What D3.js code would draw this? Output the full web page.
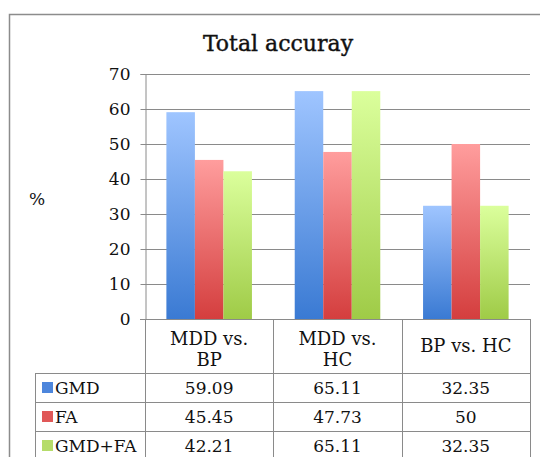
<!DOCTYPE html>
<html lang="en">
<head>
    <meta charset="UTF-8">
    <title></title>
    <style type="text/css">
        html, body { padding:0; margin:0; background:#fff; }
        text { font-family: "DejaVu Serif", serif; fill:#111; }
    </style>
</head>
<body>
<script src="https://d3js.org/d3.v7.min.js"></script>
<script>
    // data
    var categories = ['MDD vs. BP', 'MDD vs. HC', 'BP vs. HC'];
    var categoryLines = [['MDD vs.', 'BP'], ['MDD vs.', 'HC'], ['BP vs. HC']];
    var seriesNames = ['GMD', 'FA', 'GMD+FA'];
    var gmdValues = [59.09, 65.11, 32.35];
    var faValues = [45.45, 47.73, 50];
    var gmdFaValues = [42.21, 65.11, 32.35];
    var valueLabels = [['59.09', '65.11', '32.35'], ['45.45', '47.73', '50'], ['42.21', '65.11', '32.35']];
    var yTicks = [0, 10, 20, 30, 40, 50, 60, 70];

    var series = [gmdValues, faValues, gmdFaValues];
    var colors = [
        {top: '#9fc5ff', bottom: '#3a7ad3', key: '#4d86dc'},
        {top: '#ff9d9d', bottom: '#d43e3e', key: '#e05858'},
        {top: '#dbff9c', bottom: '#9fcb47', key: '#b5dc6a'}
    ];

    var width = 540,
        height = 457;

    var plotLeft = 145, plotRight = 530, plotTop = 74, base = 319;
    var tableLeft = 35, headerBottom = 373, rowH = 29;

    var svg = d3.select('body').append('svg')
                .attr('width', width)
                .attr('height', height);

    var defs = svg.append('defs');
    colors.forEach(function(c, i) {
        var g = defs.append('linearGradient')
                    .attr('id', 'grad' + i)
                    .attr('x1', 0).attr('y1', 0).attr('x2', 0).attr('y2', 1);
        g.append('stop').attr('offset', '0%').attr('stop-color', c.top);
        g.append('stop').attr('offset', '100%').attr('stop-color', c.bottom);
    });

    // outer frame
    svg.append('rect')
       .attr('x', 9.5).attr('y', 14.5)
       .attr('width', 560).attr('height', 500)
       .attr('fill', 'none')
       .attr('stroke', '#8c8c8c')
       .attr('stroke-width', 1.5);

    var x = d3.scaleBand().domain(categories).range([plotLeft, plotRight]);
    var xs = d3.scaleBand().domain(seriesNames).range([0, x.bandwidth()])
               .paddingInner(0).paddingOuter(0.75);
    var y = d3.scaleLinear().domain([0, 70]).range([base, plotTop]);

    // gridlines
    svg.append('g').selectAll('line')
       .data(yTicks.slice(1))
       .enter().append('line')
       .attr('x1', plotLeft).attr('x2', plotRight)
       .attr('y1', function(d) { return Math.round(y(d)) + 0.5; })
       .attr('y2', function(d) { return Math.round(y(d)) + 0.5; })
       .attr('stroke', '#8a8a8a')
       .attr('stroke-width', 1);

    // bars
    series.forEach(function(vals, i) {
        svg.append('g').selectAll('rect')
           .data(vals)
           .enter().append('rect')
           .attr('x', function(d, j) { return x(categories[j]) + xs(seriesNames[i]); })
           .attr('y', function(d) { return y(d); })
           .attr('width', xs.bandwidth())
           .attr('height', function(d) { return base - y(d); })
           .attr('fill', 'url(#grad' + i + ')');
    });

    // y axis
    var axisY = d3.axisLeft(y).tickValues(yTicks).tickSize(5).tickPadding(10);
    var gy = svg.append('g')
       .attr('transform', 'translate(' + (plotLeft + 0.5) + ',0)')
       .call(axisY);
    gy.select('.domain').attr('stroke', '#8a8a8a');
    gy.selectAll('.tick line').attr('stroke', '#8a8a8a');
    gy.selectAll('.tick text')
      .attr('font-family', '"DejaVu Serif", serif')
      .attr('font-size', 17)
      .attr('fill', '#111');

    // baseline / header top
    svg.append('line')
       .attr('x1', plotLeft - 5).attr('x2', plotRight)
       .attr('y1', base + 0.5).attr('y2', base + 0.5)
       .attr('stroke', '#8a8a8a');

    // y title
    svg.append('text')
       .attr('x', 37).attr('y', 205)
       .attr('text-anchor', 'middle')
       .attr('font-size', 17)
       .text('%');

    // chart title
    svg.append('text')
       .attr('x', 278).attr('y', 51)
       .attr('text-anchor', 'middle')
       .attr('font-size', 22)
       .attr('stroke', '#111').attr('stroke-width', 0.4)
       .text('Total accuray');

    // data table
    var tableBottom = height + 5;
    var grid = svg.append('g').attr('stroke', '#8a8a8a').attr('stroke-width', 1);
    categories.concat(['end']).forEach(function(c, j) {
        var xx = (j < categories.length ? x(c) : plotRight);
        grid.append('line')
            .attr('x1', Math.round(xx) + 0.5).attr('x2', Math.round(xx) + 0.5)
            .attr('y1', base).attr('y2', tableBottom);
    });
    grid.append('line')
        .attr('x1', tableLeft + 0.5).attr('x2', tableLeft + 0.5)
        .attr('y1', headerBottom).attr('y2', tableBottom);
    seriesNames.forEach(function(s, i) {
        var yy = headerBottom + i * rowH + 0.5;
        grid.append('line')
            .attr('x1', tableLeft).attr('x2', plotRight)
            .attr('y1', yy).attr('y2', yy);
    });

    // header cells
    categoryLines.forEach(function(lines, j) {
        var cx = x(categories[j]) + x.bandwidth() / 2;
        var t = svg.append('text')
                   .attr('text-anchor', 'middle')
                   .attr('font-size', 18);
        lines.forEach(function(l, k) {
            var yy = lines.length === 1 ? 352 : 345 + k * 21;
            t.append('tspan').attr('x', cx).attr('y', yy).text(l);
        });
    });

    // series rows
    seriesNames.forEach(function(s, i) {
        var rowTop = headerBottom + i * rowH;
        svg.append('rect')
           .attr('x', 42).attr('y', rowTop + 9)
           .attr('width', 11).attr('height', 11)
           .attr('fill', colors[i].key);
        svg.append('text')
           .attr('x', 55).attr('y', rowTop + 21)
           .attr('font-size', 17)
           .text(s);
        valueLabels[i].forEach(function(v, j) {
            svg.append('text')
               .attr('x', x(categories[j]) + x.bandwidth() / 2)
               .attr('y', rowTop + 21)
               .attr('text-anchor', 'middle')
               .attr('font-size', 17)
               .text(v);
        });
    });
</script>
</body>
</html>
